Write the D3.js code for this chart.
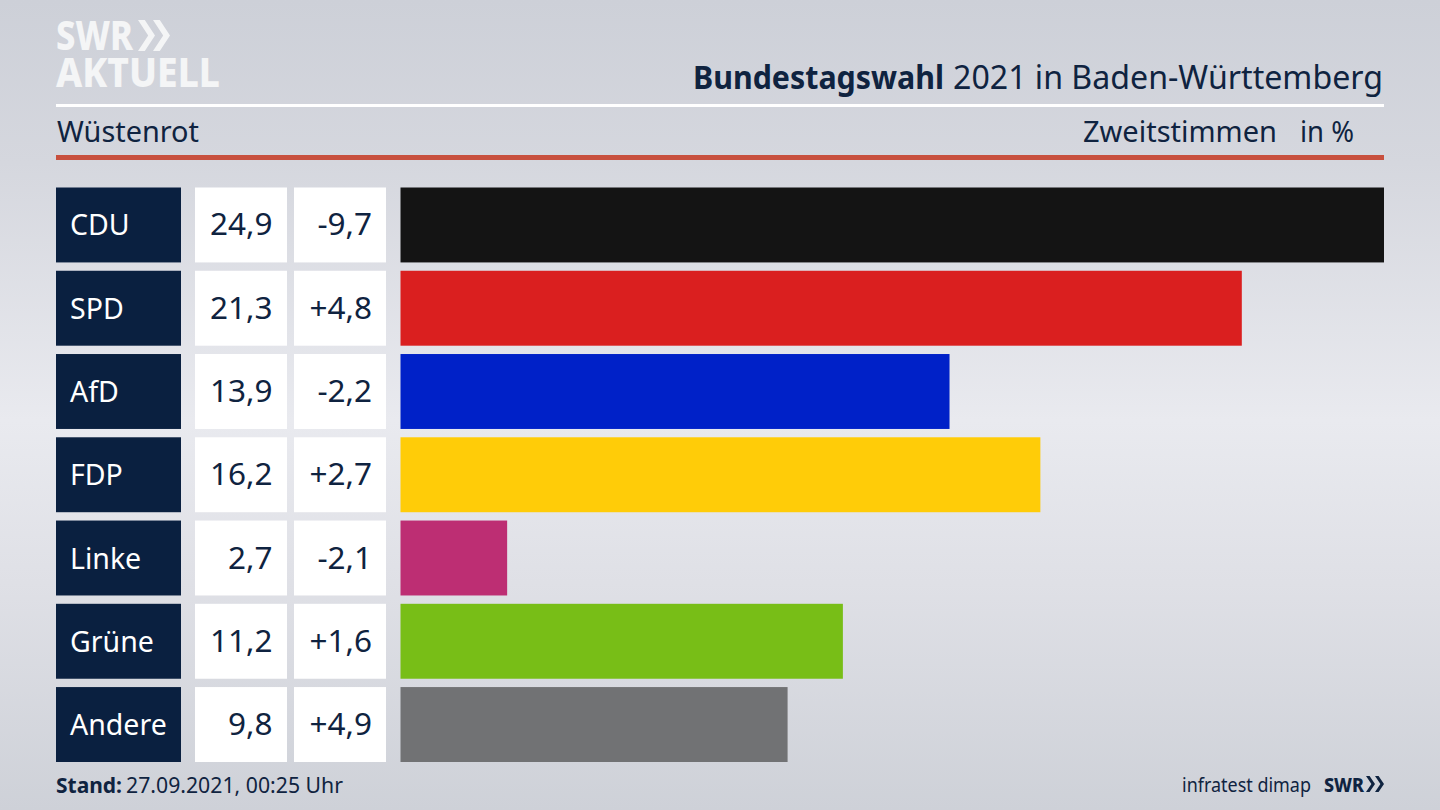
<!DOCTYPE html>
<html><head><meta charset="utf-8">
<script src="https://cdn.jsdelivr.net/npm/d3@7/dist/d3.min.js"></script>
<style>html,body{margin:0;padding:0;background:#d5d7dd}svg{display:block}text{font-family:"Noto Sans",sans-serif}</style>
</head><body><svg id="c" width="1440" height="810"></svg>
<script>
const parties=["CDU","SPD","AfD","FDP","Linke","Grüne","Andere"];
const shares=[24.9,21.3,13.9,16.2,2.7,11.2,9.8];
const changes=["-9,7","+4,8","-2,2","+2,7","-2,1","+1,6","+4,9"];
const barColors=["#141414","#da1f1f","#0021c8","#ffcc08","#bd2e73","#78be17","#717274"];
const navy="#0a2040", ink="#0f2340", logo="#f4f5f6";
const svg=d3.select("#c");
const bg=svg.append("defs").append("linearGradient").attr("id","bg").attr("x1",0).attr("x2",0).attr("y1",0).attr("y2",1);
[[0,"#cdd0d8"],[0.2,"#d5d7de"],[0.52,"#e9eaef"],[0.72,"#dfe0e6"],[1,"#ced1d8"]].forEach(s=>bg.append("stop").attr("offset",s[0]).attr("stop-color",s[1]));
svg.append("rect").attr("width",1440).attr("height",810).attr("fill","url(#bg)");
const fmt=v=>String(v).replace(".",",");
const y=d3.scaleBand().domain(parties).range([187.5,762]).paddingInner(0.1);
const x=d3.scaleLinear().domain([0,24.9]).range([400.5,1384]);
const rows=svg.selectAll("g.row").data(parties).join("g").attr("class","row");
rows.append("rect").attr("x",56).attr("width",125).attr("y",d=>y(d)).attr("height",y.bandwidth()).attr("fill",navy);
rows.append("rect").attr("x",195).attr("width",92).attr("y",d=>y(d)).attr("height",y.bandwidth()).attr("fill","#fff");
rows.append("rect").attr("x",294).attr("width",92).attr("y",d=>y(d)).attr("height",y.bandwidth()).attr("fill","#fff");
rows.append("rect").attr("x",x(0)).attr("y",d=>y(d)).attr("height",y.bandwidth()).attr("width",(d,i)=>x(shares[i])-x(0)).attr("fill",(d,i)=>barColors[i]);
const base=d=>y(d)+y.bandwidth()/2+10.5;
rows.append("text").attr("x",70).attr("y",base).attr("font-size",28.5).attr("fill","#fff").text(d=>d);
rows.append("text").attr("x",272.5).attr("y",base).attr("text-anchor","end").attr("font-size",31.5).attr("fill",ink).text((d,i)=>fmt(shares[i]));
rows.append("text").attr("x",372).attr("y",base).attr("text-anchor","end").attr("font-size",31.5).attr("fill",ink).text((d,i)=>changes[i]);
svg.append("rect").attr("x",56).attr("y",104).attr("width",1328).attr("height",3).attr("fill","#fff");
svg.append("rect").attr("x",56).attr("y",155).attr("width",1328).attr("height",5).attr("fill","#c8503e");
function label(tx,ty,size,weight,fill,str,w){
  const s=svg.append("text").attr("x",tx).attr("y",ty).attr("font-size",size).attr("font-weight",weight).attr("fill",fill).text(str);
  if(w) s.attr("textLength",w).attr("lengthAdjust","spacingAndGlyphs");
  return s;
}
label(693,89,32,700,ink,"Bundestagswahl",251);
label(953,89,32,400,ink,"2021 in Baden-Württemberg",430);
label(57,142,29,400,ink,"Wüstenrot",142);
label(1083,142,29,400,ink,"Zweitstimmen",194);
label(1300,142,29,400,ink,"in %",54);
label(56,793,22,700,ink,"Stand:",66);
label(126,793,22,400,ink,"27.09.2021, 00:25 Uhr",217);
label(1182,792,20,400,ink,"infratest dimap",129);
function chev(x0,y0,h,w,gap,col){
  [0,1].forEach(k=>{const a=x0+k*gap;
    svg.append("path").attr("d",d3.line()([[a,y0],[a+w*0.4,y0],[a+w,y0+h/2],[a+w*0.4,y0+h],[a,y0+h],[a+w*0.6,y0+h/2]])+"Z").attr("fill",col);});
}
label(56,50,41,800,logo,"SWR",77);
chev(138,20,31,17,15,logo);
label(56,87,41,800,logo,"AKTUELL",164);
label(1324,792,20,800,ink,"SWR",40);
chev(1366,776,16,9,9,ink);
</script></body></html>
